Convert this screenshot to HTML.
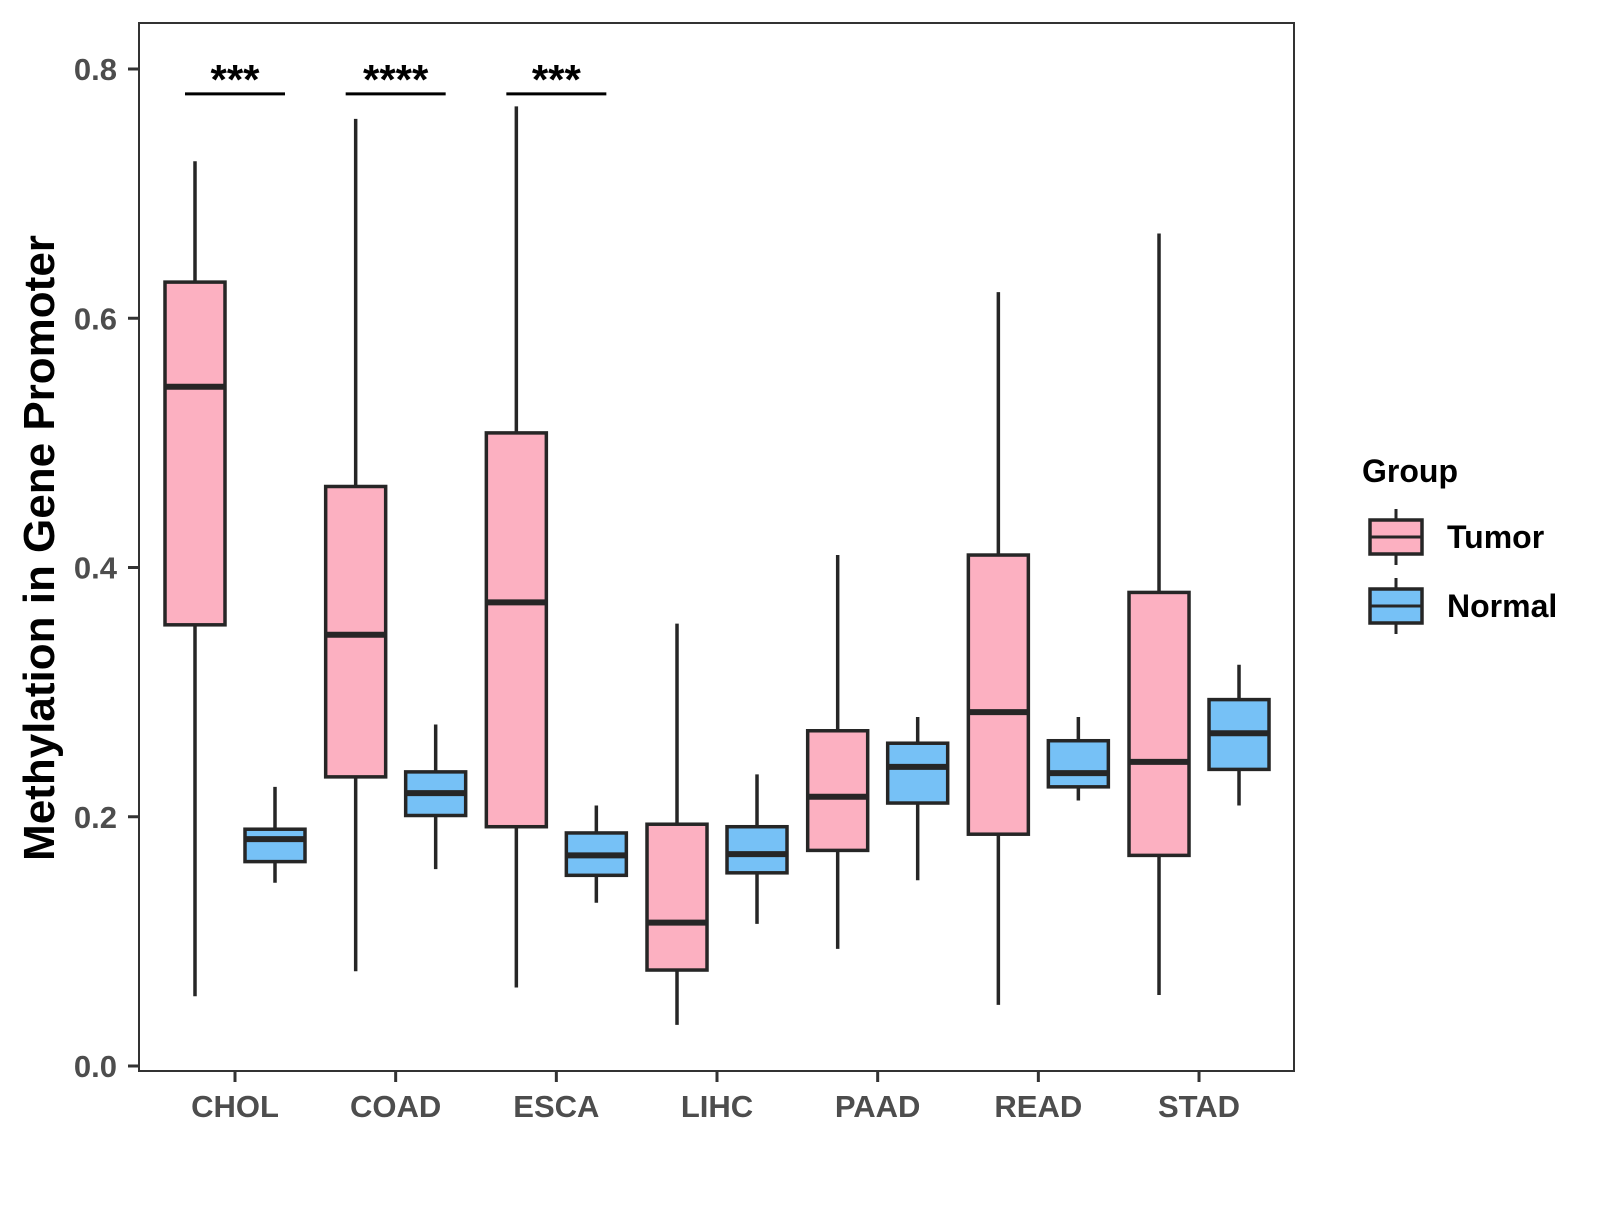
<!DOCTYPE html>
<html><head><meta charset="utf-8"><style>
body{margin:0;background:#fff}
text{font-family:"Liberation Sans",Arial,sans-serif;font-weight:bold}
</style></head><body>
<svg id="chart" width="1600" height="1200" viewBox="0 0 1600 1200" xmlns="http://www.w3.org/2000/svg">
<rect width="1600" height="1200" fill="#fff"/>
<g id="plot"></g>
</svg>
<script>
const categories=["CHOL","COAD","ESCA","LIHC","PAAD","READ","STAD"];
// [lower whisker, q1, median, q3, upper whisker]
const tumorStats=[[0.056,0.354,0.545,0.629,0.726],[0.076,0.232,0.346,0.465,0.760],[0.063,0.192,0.372,0.508,0.770],[0.033,0.077,0.115,0.194,0.355],[0.094,0.173,0.216,0.269,0.410],[0.049,0.186,0.284,0.410,0.621],[0.057,0.169,0.244,0.380,0.668]];
const normalStats=[[0.147,0.164,0.182,0.190,0.224],[0.158,0.201,0.219,0.236,0.274],[0.131,0.153,0.169,0.187,0.209],[0.114,0.155,0.170,0.192,0.234],[0.149,0.211,0.240,0.259,0.280],[0.213,0.224,0.235,0.261,0.280],[0.209,0.238,0.267,0.294,0.322]];
const yTicks=[0.0,0.2,0.4,0.6,0.8];
const sigLabels=["***","****","***"];
const sigY=[0.78,0.78,0.78];

const NS="http://www.w3.org/2000/svg";
const g=document.getElementById('plot');
const L=139,R=1294,T=23,B=1071;
const y=v=>1066-v*1246.25;
const x=i=>235+i*160.67;
const BW=60,OFF=40;
function mk(tag,attrs,parent){const e=document.createElementNS(NS,tag);for(const k in attrs)e.setAttribute(k,attrs[k]);(parent||g).appendChild(e);return e;}

const frame=mk('rect',{x:L,y:T,width:R-L,height:B-T,fill:'none',stroke:'#333',"stroke-width":2});



yTicks.forEach(v=>{
  const t=mk('line',{x1:L-11,x2:L,y1:y(v),y2:y(v),stroke:'#333',"stroke-width":3});
  
  
  const lb=mk('text',{x:L-22,y:y(v)+11,"text-anchor":"end","font-size":31,fill:'#4d4d4d'});
  lb.textContent=v.toFixed(1);
  
  
});
categories.forEach((c,i)=>{
  const t=mk('line',{x1:x(i),x2:x(i),y1:B,y2:B+11,stroke:'#333',"stroke-width":3});
  
  
  const lb=mk('text',{x:x(i),y:B+46,"text-anchor":"middle","font-size":31,fill:'#4d4d4d'});
  lb.textContent=c;
  
  
});

function box(cx,s,fill,name){
  const gg=mk('g',{});
  
  
  mk('line',{x1:cx,x2:cx,y1:y(s[0]),y2:y(s[4]),stroke:'#262626',"stroke-width":3.5},gg);
  mk('rect',{x:cx-BW/2,y:y(s[3]),width:BW,height:y(s[1])-y(s[3]),fill:fill,stroke:'#262626',"stroke-width":3.5},gg);
  mk('line',{x1:cx-BW/2,x2:cx+BW/2,y1:y(s[2]),y2:y(s[2]),stroke:'#262626',"stroke-width":6},gg);
}
categories.forEach((c,i)=>{
  box(x(i)-OFF,tumorStats[i],'#fcb0c1','box-tumor-'+c.toLowerCase());
  box(x(i)+OFF,normalStats[i],'#76c1f6','box-normal-'+c.toLowerCase());
});
sigLabels.forEach((s,i)=>{
  const l=mk('line',{x1:x(i)-50,x2:x(i)+50,y1:y(sigY[i]),y2:y(sigY[i]),stroke:'#000',"stroke-width":3});
  
  
  const t=mk('text',{x:x(i),y:y(sigY[i])-0,"text-anchor":"middle","font-size":42,fill:'#000'});
  t.textContent=s;
  
  
});
const yt=mk('text',{x:0,y:0,transform:'translate(54,548) rotate(-90)',"text-anchor":"middle","font-size":44,fill:'#000'});
yt.textContent='Methylation in Gene Promoter';



const lt=mk('text',{x:1362,y:482,"font-size":32,fill:'#000'});
lt.textContent='Group';


[['Tumor','#fcb0c1',537],['Normal','#76c1f6',606]].forEach(([n,f,cy])=>{
  const e=mk('g',{});
  
  
  mk('line',{x1:1396,x2:1396,y1:cy-28,y2:cy+28,stroke:'#262626',"stroke-width":3},e);
  mk('rect',{x:1370,y:cy-17,width:52,height:34,fill:f,stroke:'#262626',"stroke-width":3.5},e);
  mk('line',{x1:1370,x2:1422,y1:cy,y2:cy,stroke:'#262626',"stroke-width":3},e);
  const t=mk('text',{x:1447,y:cy+11,"font-size":32,fill:'#000'},e);
  t.textContent=n;
});
</script>
</body></html>
